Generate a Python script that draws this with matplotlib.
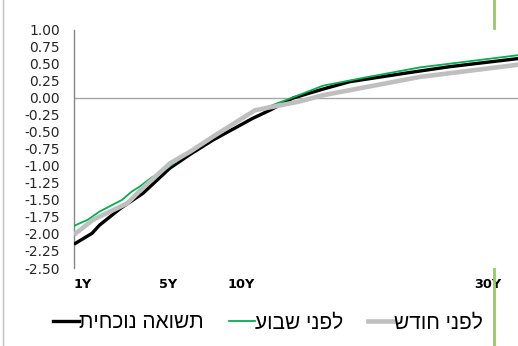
import numpy as np
import matplotlib
matplotlib.use('Agg')
import matplotlib.pyplot as plt
from matplotlib.lines import Line2D

plt.rcParams['font.family'] = ['DejaVu Sans']

# tenor (years) / yield (%) for each curve
yrs_now = [1.0, 1.85, 2.2, 3.2, 4.25, 5.8, 7.25, 8.9, 12.0, 13.4, 15.3, 17.7, 19.9, 24.6, 28.0, 33.6]
val_now = [-2.15, -1.99, -1.87, -1.62, -1.40, -1.03, -0.83, -0.62, -0.30, -0.18, 0.00, 0.13, 0.24, 0.37, 0.46, 0.58]

yrs_week = [1.0, 1.65, 2.2, 3.25, 3.7, 4.1, 4.6, 5.6, 7.25, 8.9, 12.0, 13.4, 15.3, 17.7, 21.1, 25.6, 33.6]
val_week = [-1.88, -1.79, -1.67, -1.50, -1.38, -1.30, -1.18, -1.03, -0.79, -0.58, -0.20, -0.12, 0.01, 0.18, 0.30, 0.45, 0.63]

yrs_month = [1.0, 1.9, 3.5, 4.25, 5.8, 7.25, 8.9, 12.2, 15.85, 17.7, 25.6, 33.6]
val_month = [-2.01, -1.79, -1.55, -1.32, -0.96, -0.79, -0.57, -0.18, -0.05, 0.04, 0.31, 0.49]

tick_yrs = [1, 5, 10, 30]
tick_lbl = ['1Y', '5Y', '10Y', '30Y']

# legend labels (visual order for RTL text)
lbl_now = 'תשואה נוכחית'[::-1]
lbl_week = 'לפני שבוע'[::-1]
lbl_month = 'לפני חודש'[::-1]

# uneven tenor axis: piecewise linear between these knots
knot_yrs = [0, 1, 5, 10, 30, 40]
knot_pos = [-21.25, 0, 85, 154, 400, 523]

def fwd(x):
    return np.interp(x, knot_yrs, knot_pos)

def inv(p):
    return np.interp(p, knot_pos, knot_yrs)

W, H = 518, 346
fig = plt.figure(figsize=(W / 100, H / 100), dpi=100)
ax = fig.add_axes([74 / W, 1 - 268 / H, 1 - 74 / W, 238 / H])
ax.set_xscale('function', functions=(fwd, inv))

ax.plot(yrs_now, val_now, color='black', lw=2.4, zorder=3, solid_capstyle='butt')
ax.plot(yrs_week, val_week, color='#00b050', lw=1.3, zorder=4)
ax.plot(yrs_month, val_month, color='#bfbfbf', lw=3.3, zorder=5, solid_capstyle='butt')

ax.axhline(0, color='#a6a6a6', lw=1, zorder=1)

ax.set_ylim(-2.5, 1.0)
ax.set_xlim(1, inv(444))
ax.set_yticks(np.arange(-2.5, 1.01, 0.25))
ax.set_yticklabels(['%.2f' % v for v in np.arange(-2.5, 1.01, 0.25)])
ax.tick_params(axis='y', length=0, pad=10, labelsize=10, labelcolor='#262626')

ax.set_xticks(tick_yrs)
ax.set_xticklabels(tick_lbl, fontweight='bold', ha='left')
ax.tick_params(axis='x', length=0, pad=7, labelsize=9.3)
ax.minorticks_off()

for s in ['top', 'right', 'bottom']:
    ax.spines[s].set_visible(False)
ax.spines['left'].set_color('#868686')
ax.spines['left'].set_linewidth(1)

handles = [Line2D([], [], color='black', lw=2.4),
           Line2D([], [], color='#00b050', lw=1.3),
           Line2D([], [], color='#bfbfbf', lw=3.3)]
fig.legend(handles, [lbl_now, lbl_week, lbl_month], ncol=3, frameon=False,
           loc='center', bbox_to_anchor=(268 / W, 1 - 323 / H),
           prop={'family': ['Liberation Sans', 'DejaVu Sans'], 'size': 15},
           handlelength=1.25, handletextpad=0.0, columnspacing=1.2)

# frame lines around the chart
fig.add_artist(Line2D([3 / W, 3 / W], [0, 1], color='#c0c0c0', lw=1))
fig.add_artist(Line2D([494 / W, 494 / W], [1, 1 - 28 / H], color='#92d050', lw=2))
fig.add_artist(Line2D([494 / W, 494 / W], [0, 1 - 269 / H], color='#92d050', lw=2))

fig.savefig('out.png', dpi=100)
